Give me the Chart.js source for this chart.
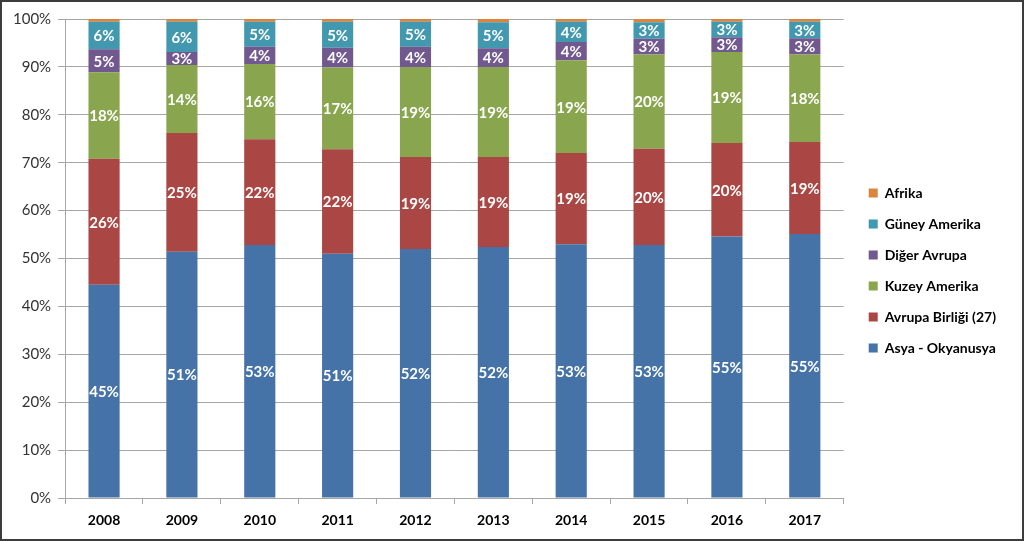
<!DOCTYPE html>
<html>
<head>
<meta charset="utf-8">
<script src="https://cdn.jsdelivr.net/npm/chart.js@4/dist/chart.umd.min.js"></script>
<style>
  html, body { margin: 0; padding: 0; background: #fff; }
  #wrap { position: relative; width: 1024px; height: 541px; }
  #frame { position: absolute; left: 0; top: 0; width: 1024px; height: 541px; box-sizing: border-box; border: 2px solid #3c3c3c; pointer-events: none; }
  canvas { display: block; }
</style>
</head>
<body>
<div id="wrap">
  <canvas id="c" width="1024" height="541"></canvas>
  <div id="frame"></div>
</div>
<script>
const years = ['2008','2009','2010','2011','2012','2013','2014','2015','2016','2017'];
const asyaOkyanusya = [44.5, 51.4, 52.8, 51.0, 52.0, 52.4, 53.0, 52.8, 54.6, 55.1];
const avrupaBirligi = [26.3, 24.8, 22.1, 21.8, 19.2, 18.8, 19.0, 20.1, 19.5, 19.2];
const kuzeyAmerika  = [18.1, 14.2, 15.7, 17.1, 18.8, 18.8, 19.4, 19.7, 19.0, 18.3];
const digerAvrupa   = [4.8, 2.7, 3.6, 4.1, 4.2, 3.9, 3.8, 3.3, 3.1, 3.4];
const guneyAmerika  = [5.7, 6.3, 5.2, 5.4, 5.2, 5.4, 4.2, 3.4, 3.2, 3.4];
const afrika        = [0.6, 0.6, 0.6, 0.6, 0.6, 0.7, 0.6, 0.7, 0.6, 0.6];
const yTicks = [0,10,20,30,40,50,60,70,80,90,100];

const labelPlugin = {
  id: 'segLabels',
  afterDatasetsDraw(chart) {
    const ctx = chart.ctx;
    ctx.save();
    ctx.font = 'bold 15px Lato, "Open Sans", sans-serif';
    ctx.fillStyle = '#ffffff';
    ctx.textAlign = 'center';
    ctx.textBaseline = 'middle';
    chart.data.datasets.forEach((ds, i) => {
      if (ds.noLabel) return;
      const meta = chart.getDatasetMeta(i);
      meta.data.forEach((bar, j) => {
        const p = bar.getProps(['x','y','base'], true);
        ctx.fillText(Math.round(ds.data[j]) + '%', p.x, (p.y + p.base) / 2 + 1);
      });
    });
    ctx.restore();
  }
};

new Chart(document.getElementById('c'), {
  type: 'bar',
  data: {
    labels: years,
    datasets: [
      { label: 'Asya - Okyanusya', data: asyaOkyanusya, backgroundColor: '#4572A7' },
      { label: 'Avrupa Birliği (27)', data: avrupaBirligi, backgroundColor: '#AA4643' },
      { label: 'Kuzey Amerika', data: kuzeyAmerika, backgroundColor: '#89A54E' },
      { label: 'Diğer Avrupa', data: digerAvrupa, backgroundColor: '#71588F' },
      { label: 'Güney Amerika', data: guneyAmerika, backgroundColor: '#4198AF' },
      { label: 'Afrika', data: afrika, backgroundColor: '#DB843D', noLabel: true }
    ]
  },
  options: {
    responsive: false,
    animation: false,
    layout: { padding: { left: 6, top: 6, right: 18, bottom: 6 } },
    datasets: { bar: { barPercentage: 0.4, categoryPercentage: 1.0 } },
    plugins: {
      tooltip: { enabled: false },
      legend: {
        position: 'right',
        reverse: true,
        labels: {
          boxWidth: 9, boxHeight: 9, padding: 17,
          color: '#000',
          font: { family: 'Lato, "Open Sans", sans-serif', size: 14, weight: 'bold' }
        }
      }
    },
    scales: {
      x: {
        stacked: true,
        afterFit(scale) { scale.height = 37; },
        grid: { display: true, drawOnChartArea: false, offset: true, tickLength: 6, color: '#a6a6a6' },
        border: { color: '#a6a6a6' },
        ticks: { color: '#000', padding: 8, font: { family: 'Lato, "Open Sans", sans-serif', size: 14, weight: 'bold' } }
      },
      topGap: {
        position: 'top',
        type: 'category',
        afterFit(scale) { scale.height = 13; },
        grid: { display: false },
        border: { display: false },
        ticks: { display: false }
      },
      y: {
        stacked: true,
        min: 0, max: 100,
        afterBuildTicks(scale) { scale.ticks = yTicks.map(v => ({ value: v })); },
        grid: { color: '#a6a6a6', tickLength: 7 },
        border: { color: '#a6a6a6' },
        ticks: { color: '#333', padding: 7, callback: v => v + '%', font: { family: 'Lato, "Open Sans", sans-serif', size: 15 } }
      },
      gap: {
        position: 'right',
        min: 0, max: 100,
        afterFit(scale) { scale.width = 8; },
        grid: { display: false },
        border: { display: false },
        ticks: { display: false }
      }
    }
  },
  plugins: [labelPlugin]
});
</script>
</body>
</html>
